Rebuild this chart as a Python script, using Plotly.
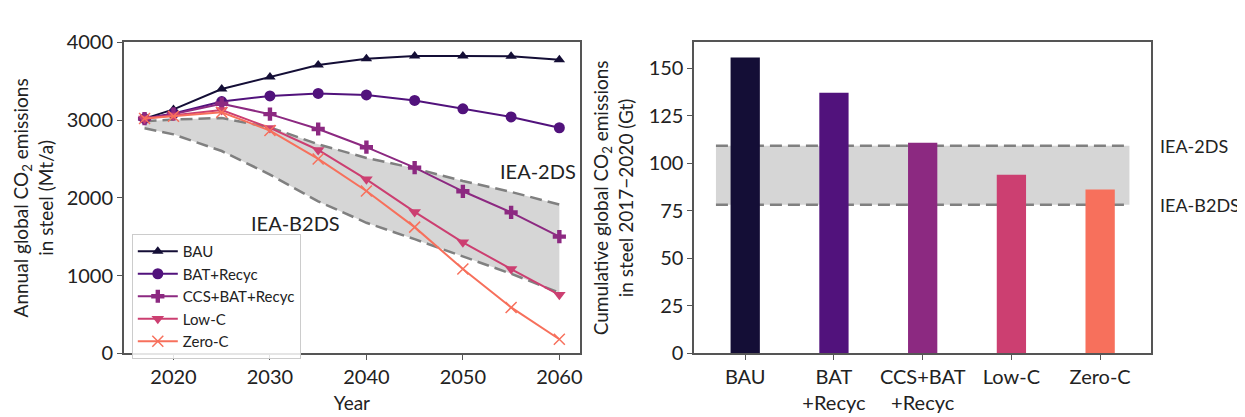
import plotly.graph_objects as go

# ---------------- data ----------------
years = [2017, 2020, 2025, 2030, 2035, 2040, 2045, 2050, 2055, 2060]
bau = [3020, 3138, 3400, 3554, 3708, 3789, 3825, 3825, 3822, 3777]
bat_recyc = [3020, 3085, 3239, 3312, 3344, 3324, 3254, 3145, 3041, 2902]
ccs_bat_recyc = [3020, 3080, 3211, 3077, 2886, 2652, 2389, 2085, 1814, 1502]
low_c = [3020, 3060, 3129, 2900, 2616, 2239, 1820, 1429, 1085, 753]
zero_c = [3020, 3050, 3101, 2866, 2501, 2089, 1624, 1085, 591, 182]
iea_2ds = [2985, 3008, 3028, 2907, 2690, 2514, 2380, 2218, 2077, 1915]
iea_b2ds = [2895, 2817, 2603, 2300, 1955, 1680, 1469, 1247, 1025, 780]

scenarios = ["BAU", "BAT+Recyc", "CCS+BAT+Recyc", "Low-C", "Zero-C"]
bar_ticktext = ["BAU", "BAT<br>+Recyc", "CCS+BAT<br>+Recyc", "Low-C", "Zero-C"]
cumulative = [155.5, 137.0, 110.7, 93.9, 86.2]
cum_iea_2ds = 109.2
cum_iea_b2ds = 78.1

colors = ["#140e36", "#51127c", "#8c2981", "#cc3f71", "#f7705c"]
symbols = ["triangle-up", "circle", "cross", "triangle-down", "x-thin-open"]

FONT = "Lato, 'DejaVu Sans', sans-serif"
GREY = "#808080"
BAND = "#d6d6d6"
FRAME = "#555555"
TXT = "#222222"

fig = go.Figure()

# ---------------- left panel ----------------
fig.add_trace(go.Scatter(x=years, y=iea_2ds, mode="lines", line=dict(color=GREY, width=2.5, dash="12px,6px"),
                         showlegend=False, hoverinfo="skip", xaxis="x", yaxis="y"))
fig.add_trace(go.Scatter(x=years, y=iea_b2ds, mode="lines", line=dict(color=GREY, width=2.5, dash="12px,6px"),
                         fill="tonexty", fillcolor=BAND,
                         showlegend=False, hoverinfo="skip", xaxis="x", yaxis="y"))

series = [bau, bat_recyc, ccs_bat_recyc, low_c, zero_c]
sizes = [10, 11, 11, 11, 11]
for name, vals, col, sym, sz in zip(scenarios, series, colors, symbols, sizes):
    marker = dict(symbol=sym, size=sz, color=col)
    if sym == "x-thin-open":
        marker["line"] = dict(color=col, width=1.5)
    fig.add_trace(go.Scatter(x=years, y=vals, mode="lines+markers", name=name,
                             line=dict(color=col, width=2), marker=marker,
                             xaxis="x", yaxis="y"))

fig.add_annotation(x=2061.9, y=2340, xref="x", yref="y", text="IEA-2DS", showarrow=False,
                   xanchor="right", yanchor="middle", font=dict(size=20, color=TXT))
fig.add_annotation(x=2032.6, y=1672, xref="x", yref="y", text="IEA-B2DS", showarrow=False,
                   xanchor="center", yanchor="middle", font=dict(size=20, color=TXT))

# ---------------- right panel ----------------
xpos = list(range(len(scenarios)))
fig.add_trace(go.Bar(x=xpos, y=cumulative, marker=dict(color=colors, line=dict(width=0)),
                     width=0.33, showlegend=False, xaxis="x2", yaxis="y2"))

band_x0, band_x1 = -0.33, 4.33
fig.add_shape(type="rect", xref="x2", yref="y2", x0=band_x0, x1=band_x1,
              y0=cum_iea_b2ds, y1=cum_iea_2ds, fillcolor=BAND, line=dict(width=0), layer="below")
for v in (cum_iea_2ds, cum_iea_b2ds):
    fig.add_shape(type="line", xref="x2", yref="y2", x0=band_x0, x1=band_x1, y0=v, y1=v,
                  line=dict(color=GREY, width=2.5, dash="12px,6px"), layer="below")

W, H = 1245, 417
for v, label in ((cum_iea_2ds, "IEA-2DS"), (cum_iea_b2ds, "IEA-B2DS")):
    fig.add_annotation(x=1152 / W, y=v, xref="paper", yref="y2", text=label, showarrow=False,
                       xanchor="left", yanchor="middle", font=dict(size=18, color=TXT))

top_px, bot_px = 22.7, 352.7
ydom = [(H - bot_px) / H, (H - top_px) / H]

axis_common = dict(showline=True, linecolor=FRAME, linewidth=1.5, mirror=True,
                   ticks="outside", ticklen=5, tickcolor=FRAME, showgrid=False, zeroline=False,
                   tickfont=dict(size=20, color=TXT))

fig.update_layout(
    width=W, height=H,
    margin=dict(l=0, r=0, t=0, b=0),
    paper_bgcolor="white", plot_bgcolor="white",
    font=dict(family=FONT, color=TXT),
    xaxis=dict(domain=[116 / W, 573 / W], range=[2014.85, 2062.15], tickvals=[2020, 2030, 2040, 2050, 2060],
               title=dict(text="Year", font=dict(size=19), standoff=10), anchor="y", **axis_common),
    yaxis=dict(domain=ydom, range=[0, 4000], tickvals=[0, 1000, 2000, 3000, 4000], anchor="x",
               title=dict(text="Annual global CO<sub>2</sub> emissions<br>in steel (Mt/a)", font=dict(size=19), standoff=8),
               **axis_common),
    xaxis2=dict(domain=[687.3 / W, 1145 / W], range=[-0.575, 4.575], tickvals=xpos, ticktext=bar_ticktext,
                anchor="y2", **axis_common),
    yaxis2=dict(domain=ydom, range=[0, 163.5], tickvals=[0, 25, 50, 75, 100, 125, 150], anchor="x2",
                title=dict(text="Cumulative global CO<sub>2</sub> emissions<br>in steel 2017\u22122020 (Gt)",
                           font=dict(size=19), standoff=10),
                **axis_common),
    legend=dict(x=124 / W, y=(H - 226) / H, xanchor="left", yanchor="top", traceorder="normal",
                bgcolor="rgba(255,255,255,0.85)", bordercolor="#cccccc", borderwidth=1,
                font=dict(size=15, color=TXT), tracegroupgap=0, itemwidth=40),
    showlegend=True,
)

fig.write_html("out.html")
